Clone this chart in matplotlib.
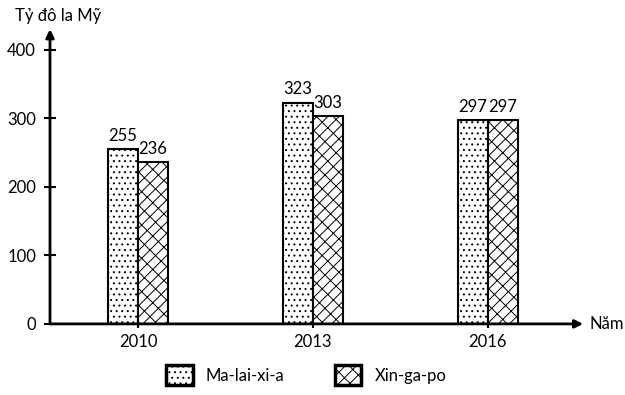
import numpy as np
import matplotlib.pyplot as plt

plt.rcParams["font.family"] = ["Lato", "DejaVu Sans"]
plt.rcParams["hatch.linewidth"] = 0.7

years = ["2010", "2013", "2016"]
malaysia = [255, 323, 297]
singapore = [236, 303, 297]
series_names = ["Ma-lai-xi-a", "Xin-ga-po"]
yticks = [0, 100, 200, 300, 400]

fig = plt.figure(figsize=(6.25, 3.95), dpi=100)
ax = fig.add_axes([0.08, 0.18, 0.853, 0.746])

x = np.arange(len(years))
w = 0.171
b1 = ax.bar(x - w / 2, malaysia, w, color="white", edgecolor="black",
            hatch="...", linewidth=1.5, label=series_names[0])
b2 = ax.bar(x + w / 2, singapore, w, color="white", edgecolor="black",
            hatch="///\\\\", linewidth=1.5, label=series_names[1])
for bars, vals in [(b1, malaysia), (b2, singapore)]:
    for r, v in zip(bars, vals):
        ax.text(r.get_x() + r.get_width() / 2, v + 8, str(v),
                ha="center", va="bottom", fontsize=12)

ax.set_xlim(-0.503, 2.546)
ax.set_ylim(0, 430)
for s in ["top", "right", "left", "bottom"]:
    ax.spines[s].set_visible(False)

# axes with arrows
ax.annotate("", xy=(1.0, 0), xytext=(0, 0), xycoords="axes fraction",
            arrowprops=dict(arrowstyle="-|>", color="black", lw=2,
                            mutation_scale=12, shrinkA=0, shrinkB=0))
ax.annotate("", xy=(0, 1.0), xytext=(0, 0), xycoords="axes fraction",
            arrowprops=dict(arrowstyle="-|>", color="black", lw=2,
                            mutation_scale=12, shrinkA=0, shrinkB=0))

ax.set_xticks(x)
ax.set_xticklabels(years, fontsize=12)
ax.set_yticks(yticks)
ax.set_yticklabels([str(t) for t in yticks], fontsize=12)
ax.tick_params(axis="y", direction="inout", length=8, width=1.5, pad=6)
ax.tick_params(axis="x", direction="inout", length=6, width=1.5, pad=4)

ax.text(1.012, 0, "Năm", transform=ax.transAxes, ha="left", va="center", fontsize=12)
fig.text(0.024, 0.96, "Tỷ đô la Mỹ", ha="left", va="center", fontsize=12)

leg = fig.legend(loc="center", bbox_to_anchor=(0.49, 0.05), ncol=2, frameon=False,
                 fontsize=12, handlelength=1.6, handleheight=1.5, columnspacing=3.0)
for p in leg.get_patches():
    p.set_linewidth(2.5)

fig.savefig("out.png", dpi=100)
